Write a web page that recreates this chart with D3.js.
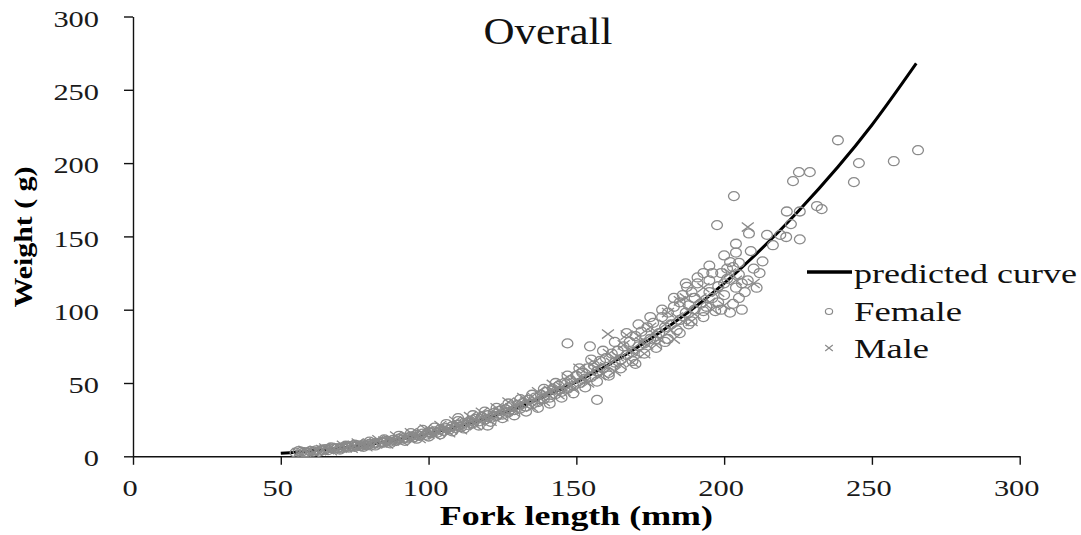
<!DOCTYPE html>
<html>
<head>
<meta charset="utf-8">
<script src="https://cdn.jsdelivr.net/npm/d3@7"></script>
<style>
    body { margin: 0; background: #fff; }
    svg { display: block; font-family: "Liberation Serif", "Times New Roman", serif; }
</style>
</head>
<body>
<div id="chart"></div>
<script>
// 0.data
var xTicks = [0, 50, 100, 150, 200, 250, 300];
var yTicks = [0, 50, 100, 150, 200, 250, 300];

// predicted curve (fork length mm, weight g)
var curvePoints = [[50, 2], [60, 3.6], [75, 6.8], [90, 11.5], [100, 15.5], [125, 29.6], [150, 50.7],
    [175, 80], [200, 118], [225, 167], [250, 226], [265, 268]];

var femalePoints = [
    [55, 2.5], [57, 3], [58, 2.8], [60, 3.5], [61, 3.2], [62, 4], [64, 4.3], [65, 4.8], [66, 4.2], [68, 5.2],
    [69, 5.6], [70, 5.3], [71, 6], [72, 6.3], [73, 5.9], [74, 6.9], [75, 6.5], [76, 7.4], [77, 7], [78, 8],
    [79, 7.6], [80, 8.5], [81, 8], [82, 9], [83, 8.7], [84, 9.8], [85, 9.4], [86, 10.5], [87, 10], [88, 11.2],
    [89, 10.6], [90, 12], [91, 11.4], [92, 12.8], [93, 12.2], [94, 13.6], [95, 13], [96, 14.5], [97, 14], [98, 15.5],
    [99, 14.6], [100, 16.5], [101, 15.8], [102, 17], [103, 16.2], [104, 18.5], [105, 17.4], [106, 19.2], [107, 18.3],
    [108, 20.5], [109, 19.4], [110, 21.5], [110, 24], [111, 20], [112, 22.8], [113, 21.5], [114, 24.2], [115, 22.5],
    [116, 25.5], [117, 23.8], [118, 27], [119, 25], [120, 28], [120, 21], [121, 26], [122, 29.5], [123, 27.5],
    [124, 31], [125, 28.5], [126, 32], [127, 30], [128, 34], [129, 31.5], [130, 35], [131, 32.5], [132, 36.5],
    [133, 34], [134, 38.5], [135, 35.5], [136, 40], [137, 37], [138, 42], [139, 39], [140, 44], [141, 40],
    [142, 46], [143, 42.5], [144, 48], [145, 44], [146, 50], [147, 46], [147, 77], [148, 52], [149, 48],
    [150, 55], [151, 50], [152, 57], [153, 53], [154, 60], [154.6, 75], [155, 54], [156, 62], [157, 38.5],
    [157, 58], [158, 65], [159, 60], [160, 67], [161, 57], [162, 70], [163, 64], [164, 72], [165, 66],
    [166, 75], [167, 69], [168, 78], [169, 71], [170, 82], [170, 63], [171, 75], [172, 85], [173, 77],
    [174, 88], [175, 80], [176, 91], [177, 82], [178, 84], [179, 95], [180, 88], [180, 78], [181, 98],
    [182, 90], [183, 102], [184, 86], [185, 105], [185, 93], [186, 110], [187, 98], [187.4, 115.6], [188, 103],
    [188, 90], [189, 112], [190, 100], [190, 108], [191, 118], [192, 104], [193, 125], [193, 99], [194, 102],
    [195, 120], [195, 112], [196, 125], [196, 108], [197, 99], [197.6, 157.7], [198, 116], [199, 125], [199, 100],
    [200, 137], [200, 110], [201, 121], [202, 132.5], [202, 98], [203, 129], [203.3, 177.5], [204, 139], [204, 145],
    [204, 115], [205, 124], [205, 108], [206, 118], [207, 112], [208.4, 152], [208, 120], [210, 128], [211, 115],
    [213, 133], [214.5, 151], [216.5, 144], [219, 151], [221, 149.6], [221.2, 167], [222.6, 158.4], [223.3, 187.7],
    [225.3, 193.8], [225.6, 167], [225.6, 148], [229, 193.8], [231.4, 170.7], [233, 168.6], [238.5, 215.6],
    [243.9, 187], [245.6, 200], [257.4, 201.3], [265.6, 208.8],
    [56, 3.5], [59, 2.4], [63, 3.2], [67, 6], [70, 4.6], [72, 7.2], [75, 8], [78, 6.5], [80, 10], [82, 7.4],
    [85, 11.5], [87, 8.8], [90, 14], [92, 10.5], [94, 15.8], [96, 12], [98, 18], [100, 13.5], [102, 19.5],
    [104, 15], [106, 22], [108, 17], [110, 26], [112, 19], [115, 28], [117, 21], [119, 30.5], [121, 23.5],
    [123, 33], [125, 26], [127, 36], [129, 28], [131, 39], [133, 30.5], [135, 42], [137, 33], [139, 46],
    [141, 36], [143, 50], [145, 40], [147, 55], [149, 43], [151, 60], [153, 47], [155, 66], [157, 51],
    [159, 72], [161, 55], [163, 78], [165, 60], [167, 84], [169, 65], [171, 90], [173, 70], [175, 95],
    [177, 74], [179, 100], [181, 80], [183, 108], [185, 84], [187, 118], [189, 92], [191, 122], [193, 95],
    [195, 130], [198, 105], [200, 118], [201, 128], [203, 104], [205, 132], [206, 100], [209, 140], [212, 125]
];

var malePoints = [
    [56, 2.5], [59, 3.3], [62, 3.8], [64, 4.5], [66, 4.6], [68, 5.5], [70, 6], [72, 5.8], [73, 6.6], [75, 7.2],
    [77, 7.6], [78, 7.3], [80, 8.8], [82, 9.4], [84, 9.2], [85, 10.3], [87, 10.8], [88, 10.5], [90, 11.8], [92, 12.4],
    [93, 13.2], [95, 14], [96, 13.5], [98, 15.8], [100, 15.2], [101, 16.8], [103, 17.5], [105, 18.5], [106, 17.8],
    [108, 19.8], [110, 20.8], [112, 22], [113, 23.5], [115, 24], [117, 25.2], [119, 26.5], [120, 27.5], [122, 28.5],
    [124, 30.5], [126, 31], [128, 33], [130, 34], [131, 36.5], [133, 37.5], [134, 35.5], [136, 39], [138, 41],
    [140, 42.5], [141, 45], [143, 46], [145, 47.5], [146, 44.5], [148, 49], [150, 52], [152, 54], [153, 51],
    [155, 57], [157, 60], [158, 55], [160, 61], [160.7, 83.4], [162, 64], [164, 68], [165, 62], [167, 82.7],
    [168, 72], [170, 70], [172, 78], [174, 76], [176, 84], [178, 80], [180, 90], [182, 86], [184, 95],
    [185, 106], [186, 92], [188, 100], [190, 97], [192, 108], [195, 105], [198, 112], [200, 103], [204, 120],
    [208, 156.4], [210, 118],
    [58, 4], [61, 2.7], [65, 5.6], [67, 3.9], [71, 7.4], [74, 5.6], [76, 9], [79, 6.6], [83, 11.2], [86, 8.4],
    [89, 13.8], [91, 10.4], [94, 16], [97, 12.2], [99, 18.5], [102, 14.4], [104, 21], [107, 16.2], [109, 24],
    [111, 18.2], [114, 27], [116, 21], [118, 30], [121, 24], [123, 33], [125, 27], [127, 37], [129, 30],
    [132, 40], [135, 33.5], [137, 44], [139, 37.5], [142, 49], [144, 42], [147, 54], [149, 46], [151, 60],
    [154, 50], [156, 64], [159, 56], [161, 70], [163, 58], [166, 76], [169, 64], [171, 82], [173, 70],
    [175, 88], [177, 76], [181, 98], [183, 80], [187, 108], [189, 92], [193, 115], [196, 100], [202, 125]
];

var legendItems = ["predicted curve", "Female", "Male"];

// 0.1.size
var svgW = 1081, svgH = 535;
var plot = {left: 133, right: 1019.7, top: 16.5, bottom: 456.3};
var grey = "#8a8a8a";

// 1.Add DOM elements
var svg = d3.select("#chart").append("svg").attr("width", svgW).attr("height", svgH);

var xScale = d3.scaleLinear().domain([0, 300]).range([plot.left, plot.right]);
var yScale = d3.scaleLinear().domain([0, 300]).range([plot.bottom, plot.top]);

// text in the source image is stretched sideways, so squeeze it into the measured width
function stretch(sel, perChar) {
    sel.attr("textLength", function (d) { return String(d).length * perChar; })
        .attr("lengthAdjust", "spacingAndGlyphs");
}

var xAxis = d3.axisBottom(xScale).tickValues(xTicks).tickSize(8.5).tickSizeOuter(0).tickPadding(14.5);
var yAxis = d3.axisLeft(yScale).tickValues(yTicks).tickSize(9).tickSizeOuter(0).tickPadding(25);

var gx = svg.append("g").attr("transform", "translate(0," + plot.bottom + ")").call(xAxis);
var gy = svg.append("g").attr("transform", "translate(" + plot.left + ",0)").call(yAxis);

[gx, gy].forEach(function (g) {
    g.selectAll("path, line").attr("stroke", "#111").attr("stroke-width", 1.4);
    g.selectAll("text")
        .attr("font-family", "Liberation Serif")
        .attr("font-size", 24)
        .attr("fill", "#1a1a1a")
        .call(stretch, 15.2);
});
gx.selectAll("text").attr("x", -3.5);
gy.selectAll("text").attr("dy", "0.4em");

// 2.predicted curve
var line = d3.line()
    .x(function (d) { return xScale(d[0]); })
    .y(function (d) { return yScale(d[1]); })
    .curve(d3.curveMonotoneX);

svg.append("path").datum(curvePoints)
    .attr("d", line)
    .attr("fill", "none")
    .attr("stroke", "#000")
    .attr("stroke-width", 3);

// 3.points
svg.append("g").selectAll("ellipse")
    .data(femalePoints).enter().append("ellipse")
    .attr("cx", function (d) { return xScale(d[0]); })
    .attr("cy", function (d) { return yScale(d[1]); })
    .attr("rx", 5.4).attr("ry", 4.5)
    .attr("fill", "none").attr("stroke", grey).attr("stroke-width", 1.3);

svg.append("g").selectAll("path")
    .data(malePoints).enter().append("path")
    .attr("transform", function (d) { return "translate(" + xScale(d[0]) + "," + yScale(d[1]) + ")"; })
    .attr("d", "M-6,-4.6L6,4.6M-6,4.6L6,-4.6")
    .attr("fill", "none").attr("stroke", grey).attr("stroke-width", 1.3);

// 4.titles
svg.append("text").datum("Overall")
    .attr("x", 548).attr("y", 44)
    .attr("text-anchor", "middle").attr("font-size", 37).attr("fill", "#111")
    .attr("textLength", 129).attr("lengthAdjust", "spacingAndGlyphs")
    .text(function (d) { return d; });

svg.append("text")
    .attr("x", (plot.left + plot.right) / 2).attr("y", 525)
    .attr("text-anchor", "middle").attr("font-size", 27).attr("font-weight", "bold").attr("fill", "#000")
    .attr("textLength", 273).attr("lengthAdjust", "spacingAndGlyphs")
    .text("Fork length (mm)");

svg.append("text")
    .attr("transform", "translate(32,237) rotate(-90)")
    .attr("text-anchor", "middle").attr("font-size", 26).attr("font-weight", "bold").attr("fill", "#000")
    .attr("textLength", 141).attr("lengthAdjust", "spacingAndGlyphs")
    .text("Weight ( g)");

// 5.legend
var legend = svg.append("g").attr("transform", "translate(807,272)");
var rowGap = 37.5;
var legendWidths = [223, 108, 75];

legend.append("line").attr("x1", 0).attr("x2", 45).attr("y1", 0).attr("y2", 0)
    .attr("stroke", "#000").attr("stroke-width", 3.5);
legend.append("ellipse").attr("cx", 22).attr("cy", rowGap + 2).attr("rx", 3.6).attr("ry", 3)
    .attr("fill", "none").attr("stroke", grey).attr("stroke-width", 1.2);
legend.append("path").attr("transform", "translate(22," + (2 * rowGap + 1) + ")")
    .attr("d", "M-3.8,-3L3.8,3M-3.8,3L3.8,-3")
    .attr("fill", "none").attr("stroke", grey).attr("stroke-width", 1.2);

legend.selectAll("text.leg")
    .data(legendItems).enter().append("text").attr("class", "leg")
    .attr("x", 47)
    .attr("y", function (d, i) { return 11 + i * rowGap; })
    .attr("font-size", 27).attr("fill", "#111")
    .attr("textLength", function (d, i) { return legendWidths[i]; })
    .attr("lengthAdjust", "spacingAndGlyphs")
    .text(function (d) { return d; });
</script>
</body>
</html>
